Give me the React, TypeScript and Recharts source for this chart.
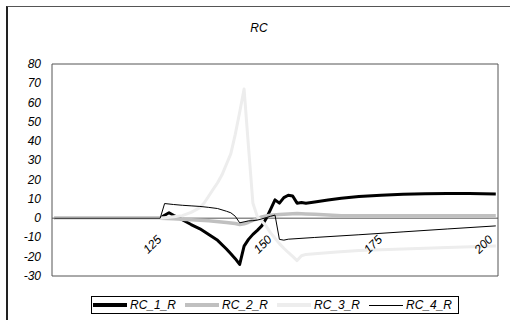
import React from "react";
import { LineChart, Line, XAxis, YAxis, ReferenceLine, ReferenceArea, ReferenceDot } from "recharts";

const seriesNames = ["RC_1_R", "RC_2_R", "RC_3_R", "RC_4_R"];
const seriesColors = ["#000000", "#c0c0c0", "#ededed", "#000000"];
const seriesWidths = [3, 3.5, 3, 1];
const legendWidths = [4, 4, 4, 1];

const yTicks = [-30, -20, -10, 0, 10, 20, 30, 40, 50, 60, 70, 80];
const xTickLabels = [125, 150, 175, 200];

const rc1X = [101, 125, 126, 127, 128, 129, 130, 132, 134, 136, 138, 140, 141, 142, 143, 144, 145, 146, 147, 148, 149, 150, 151, 152, 153, 154, 155, 156, 157, 158, 160, 163, 166, 170, 175, 180, 185, 190, 195, 201];
const rc1Y = [0, 0, 1.5, 2.8, 1.5, 0.3, -0.8, -3.3, -5.5, -8.5, -11.5, -16, -18.5, -21, -24, -14.5, -11, -8.4, -6.3, -4, -0.2, 4.6, 9.5, 7.8, 10.7, 11.9, 11.5, 7.8, 8.1, 7.8, 8.4, 9.4, 10.3, 11.2, 11.9, 12.4, 12.7, 12.8, 12.8, 12.6];

const rc2X = [101, 125, 128, 132, 136, 140, 142, 143, 144, 145, 146, 147, 148, 149, 150, 152, 154, 156, 158, 160, 163, 166, 170, 201];
const rc2Y = [0, 0, -0.3, -0.8, -1.3, -2.2, -2.8, -3.3, -2.9, -2.1, -1.2, -0.2, 0.6, 1.1, 1.5, 1.9, 2.2, 2.4, 2.2, 2.0, 1.6, 1.3, 1.2, 1.2];

const rc3X = [101, 125, 127, 129, 130, 132, 134, 135, 136, 137, 138, 139, 140, 141, 142, 143, 144, 145, 146, 147, 148, 149, 150, 151, 152, 153, 154, 155, 156, 157, 158, 160, 165, 170, 180, 190, 201];
const rc3Y = [0, 0, 0.5, 1, 1.3, 3, 5.5, 8, 11.5, 15, 18.4, 22.5, 28, 33.5, 43.5, 55, 67, 37, 7.7, 0.8, -1.5, -4.1, -7.6, -10.4, -13.2, -15.6, -17.8, -19.8, -22, -19.5, -18.8, -18.4, -17.5, -16.8, -16, -15.2, -14.4];

const rc4X = [101, 125, 126, 128, 130, 132, 134, 136, 138, 140, 141, 142, 143, 144, 145, 146, 147, 148, 149, 150, 151, 152, 153, 154, 160, 170, 180, 190, 201];
const rc4Y = [0, 0, 7.6, 7.1, 6.7, 6.4, 6.1, 5.6, 5.0, 3.6, 2.8, 1.0, -2.4, -1.9, -1.4, -1.3, -1.0, -0.4, 0.3, 1.0, 1.6, -11, -11.4, -10.9, -10, -8.6, -7.1, -5.6, -4];

const seriesData = [
  rc1X.map((x, i) => ({ x, y: rc1Y[i] })),
  rc2X.map((x, i) => ({ x, y: rc2Y[i] })),
  rc3X.map((x, i) => ({ x, y: rc3Y[i] })),
  rc4X.map((x, i) => ({ x, y: rc4Y[i] })),
];

const FONT = "'Liberation Sans', Arial, sans-serif";

const YTick = (props: any) => {
  const { x, y, payload } = props;
  return (
    <text x={x} y={y} dy={4} textAnchor="end" fontFamily={FONT} fontStyle="italic" fontSize={12} fill="#000">
      {payload.value}
    </text>
  );
};

const XLabel = (label: number) => (props: any) => {
  const { cx, cy } = props;
  const tx = cx + 2;
  const ty = cy + 22;
  return (
    <text x={tx} y={ty} transform={`rotate(-45 ${tx} ${ty})`} textAnchor="end" fontFamily={FONT} fontStyle="italic" fontSize={12} fill="#000">
      {label}
    </text>
  );
};

export default function App() {
  return (
    <div style={{ position: "absolute", left: 0, top: 0, width: 510, height: 320, background: "#fff", overflow: "hidden" }}>
      <div style={{ position: "absolute", left: 6, top: 6, width: 600, height: 400, borderLeft: "2px solid #222", borderTop: "1px solid #555", boxSizing: "border-box" }} />
      <div style={{ position: "absolute", left: 0, top: 20, width: 518, textAlign: "center", fontFamily: FONT, fontStyle: "italic", fontSize: 12, lineHeight: "16px", color: "#000" }}>
        RC
      </div>
      <div style={{ position: "absolute", left: 0, top: 0 }}>
        <LineChart width={510} height={320} margin={{ top: 64, right: 12, bottom: 44, left: 7 }}>
          <XAxis type="number" dataKey="x" domain={[100.5, 201.5]} hide allowDataOverflow />
          <YAxis type="number" domain={[-30, 80]} ticks={yTicks} width={45} axisLine={false} tickLine={false} tickSize={9} tickMargin={2} tick={<YTick />} interval={0} />
          <ReferenceArea x1={100.5} x2={201.5} y1={-30} y2={80} fill="none" stroke="#555" strokeWidth={1} fillOpacity={0} />
          <ReferenceLine y={0} stroke="#555" strokeWidth={1} />
          {seriesNames.map((name, i) => (
            <Line
              key={name}
              data={seriesData[i]}
              dataKey="y"
              name={name}
              type="linear"
              stroke={seriesColors[i]}
              strokeWidth={seriesWidths[i]}
              dot={false}
              activeDot={false}
              isAnimationActive={false}
              strokeLinejoin="round"
            />
          ))}
          {xTickLabels.map((v) => (
            <ReferenceDot key={v} x={v} y={0} r={0} shape={XLabel(v)} />
          ))}
        </LineChart>
      </div>
      <div style={{ position: "absolute", left: 91, top: 296, width: 368, height: 18, border: "1px solid #000", boxSizing: "border-box", display: "flex", alignItems: "center", paddingLeft: 1, background: "#fff" }}>
        {seriesNames.map((name, i) => (
          <div key={name} style={{ width: 92, display: "flex", alignItems: "center", flexShrink: 0 }}>
            <div style={{ width: 34, height: 0, borderTop: `${legendWidths[i]}px solid ${seriesColors[i]}`, marginRight: 3 }} />
            <span style={{ fontFamily: FONT, fontStyle: "italic", fontSize: 12, color: "#000", lineHeight: "14px" }}>{name}</span>
          </div>
        ))}
      </div>
    </div>
  );
}
